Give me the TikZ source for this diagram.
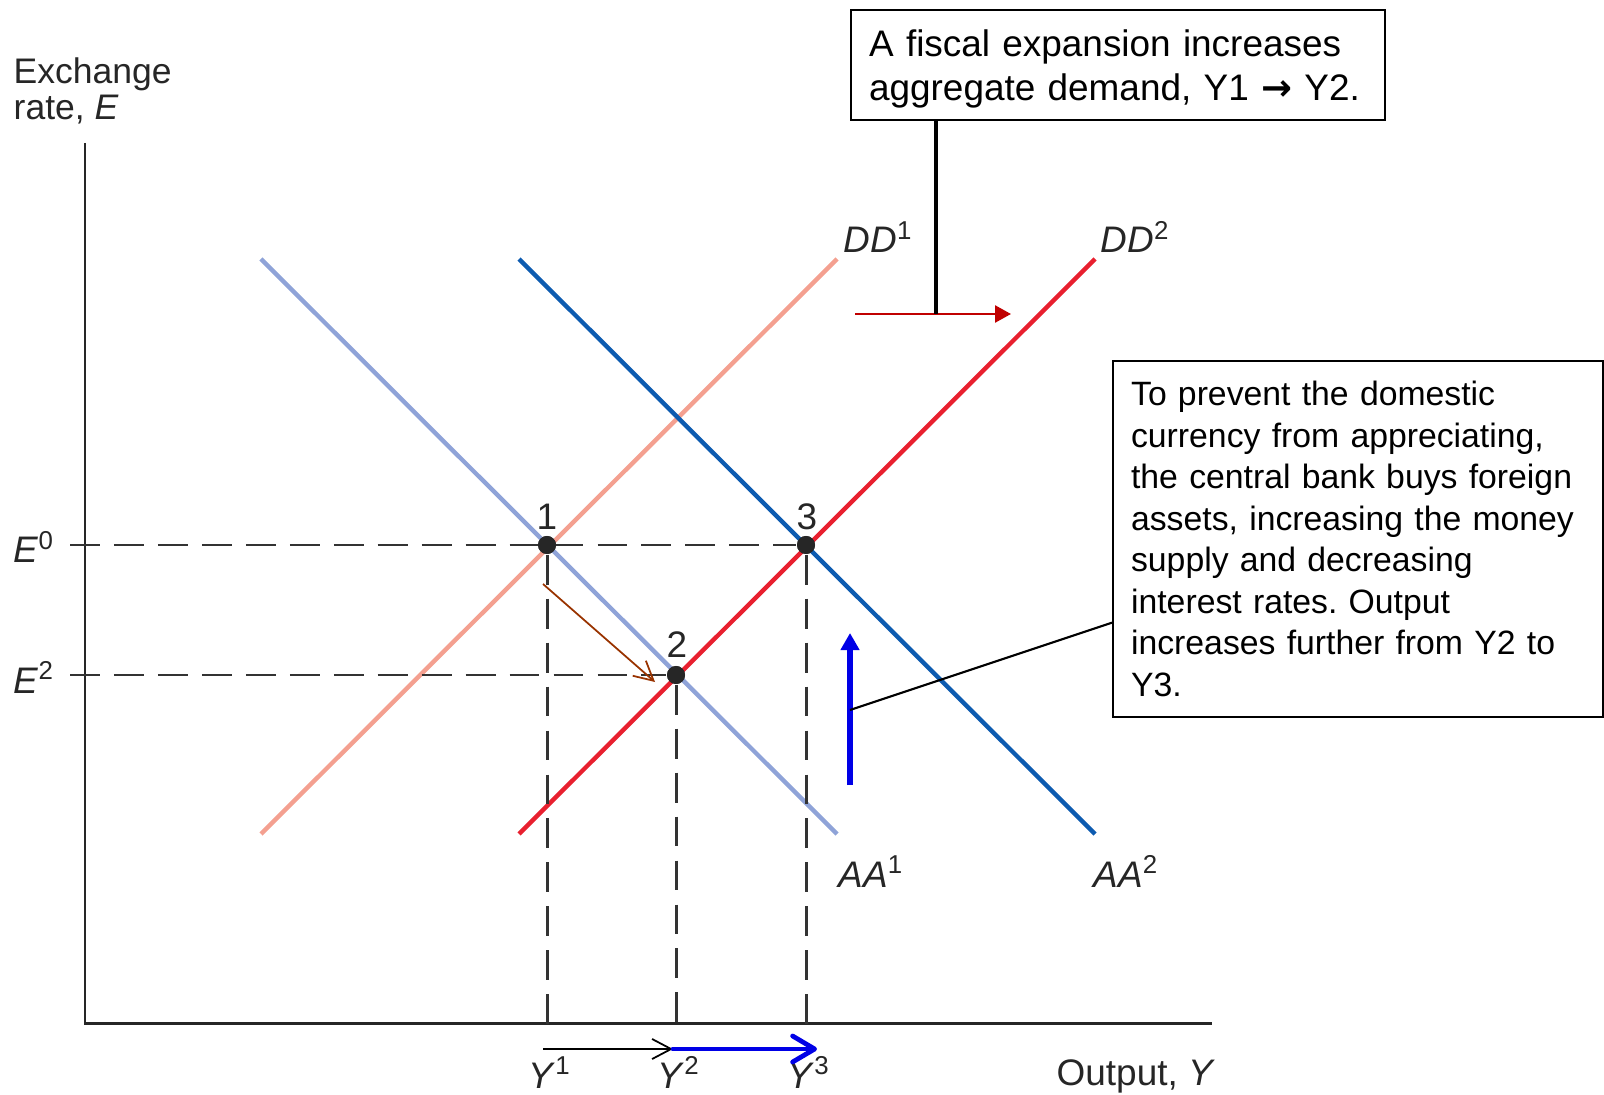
\documentclass[tikz,border=0pt]{standalone}
\usepackage{fontspec}
\setmainfont{Liberation Sans}
\newfontfamily\arrowfont{DejaVu Sans}
\frenchspacing
\usetikzlibrary{positioning, arrows.meta, calc}
\definecolor{aaone}{HTML}{8FA3D8}
\definecolor{ddone}{HTML}{F4A090}
\definecolor{aatwo}{HTML}{0D5BB0}
\definecolor{ddtwo}{HTML}{E8202F}
\definecolor{guide}{HTML}{333333}
\definecolor{shiftred}{HTML}{C00000}
\definecolor{slide}{HTML}{993300}
\definecolor{push}{HTML}{0000E6}
\tikzset{
  axis/.style      = {line width=0.85pt, draw=black!85},
  curve/.style     = {line width=1.25pt},
  guideline/.style = {line width=0.85pt, draw=guide, dash pattern=on 8.5pt off 4pt},
  eqpt/.style      = {circle, fill=black!85, inner sep=0pt, minimum size=0.18cm},
  lbl/.style       = {font=\fontsize{10.5}{12.5}\selectfont, inner sep=0pt, text=black!85},
  callout/.style   = {rectangle, draw=black, line width=0.6pt, align=left,
                      inner xsep=0.18cm, inner ysep=0pt, anchor=north west},
  thinarr/.style   = {-{Straight Barb[length=1.9mm,width=2mm]}, line width=0.5pt},
  thickarr/.style  = {-{Straight Barb[length=2.2mm,width=2.6mm,round]}, line width=1.35pt,
                      draw=push, line cap=round},
  solidarr/.style  = {-{Triangle[length=1.6mm,width=1.7mm]}},
}

\begin{document}
\begin{tikzpicture}[x=0.01cm, y=-0.01cm]
  \useasboundingbox (0,0) rectangle (1604,1095);

  % Axes
  \coordinate (origin) at (85,1023);
  \coordinate (tickleft) at (70,1023);
  \draw[axis] (85,143) -- (origin) -- (1212,1023);
  \node[lbl, anchor=north west, align=left, font=\fontsize{10.1}{10.3}\selectfont]
       (ylab) at (13,57) {Exchange\\rate, \textit{E}};
  \node[lbl, anchor=base west] (xlab) at (1056,1085) {Output, \textit{Y}};

  % Schedules
  \draw[curve, ddone] (261,834) -- (837,259);
  \draw[curve, aaone] (261,259) -- (837,834);
  \draw[curve, aatwo] (519,259) -- (1095,834);
  \draw[curve, ddtwo] (519,834) -- (1095,259);
  \node[lbl, anchor=base west] (dd1) at (843,253) {\textit{DD}\textsuperscript{1}};
  \node[lbl, anchor=base west] (dd2) at (1100,253) {\textit{DD}\textsuperscript{2}};
  \node[lbl, anchor=base west] (aa1) at (838,887) {\textit{AA}\textsuperscript{1}};
  \node[lbl, anchor=base west] (aa2) at (1093,887) {\textit{AA}\textsuperscript{2}};

  % Equilibria
  \node[eqpt] (p1) at (547,545) {};
  \node[eqpt] (p2) at (676,675) {};
  \node[eqpt] (p3) at (806,545) {};
  \draw[guideline] (tickleft |- p3) -- (p3);
  \draw[guideline] (tickleft |- p2) -- (p2);
  \draw[guideline] (p1) -- ++(0,490);
  \draw[guideline] (p2) -- ++(0,360);
  \draw[guideline] (p3) -- ++(0,490);
  \node[eqpt] at (p1) {};
  \node[eqpt] at (p2) {};
  \node[eqpt] at (p3) {};
  \node[lbl, anchor=base] (n1) at ($(p1)+(0,-15)$) {1};
  \node[lbl, anchor=base] (n2) at ($(p2)+(1,-18)$) {2};
  \node[lbl, anchor=base] (n3) at ($(p3)+(1,-15)$) {3};
  \node[lbl, anchor=base west] (e0) at (13,563) {\textit{E}\textsuperscript{0}};
  \node[lbl, anchor=base west] (e2) at (13,693) {\textit{E}\textsuperscript{2}};
  \node[lbl, anchor=base] (y1) at ($(p1 |- origin)+(3,65)$) {\textit{Y}\textsuperscript{1}};
  \node[lbl, anchor=base] (y2) at ($(p2 |- origin)+(3,65)$) {\textit{Y}\textsuperscript{2}};
  \node[lbl, anchor=base] (y3) at ($(p3 |- origin)+(3,65)$) {\textit{Y}\textsuperscript{3}};

  % Movements
  \coordinate (slidefrom) at (543,584);
  \coordinate (slideto) at (655,682);
  \draw[thinarr, slide] (slidefrom) -- (slideto);
  \coordinate (outA) at (543,1049);
  \coordinate (outB) at (673,1049);
  \coordinate (outC) at (817,1049);
  \draw[thinarr] (outA) -- (outB);
  \draw[thickarr] (outB) -- (outC);
  \coordinate (shiftfrom) at (855,314);
  \coordinate (shiftmid) at (936,314);
  \coordinate (shiftto) at (1011,314);
  \draw[solidarr, shiftred, line width=0.7pt] (shiftfrom) -- (shiftto);
  \coordinate (pushfrom) at (850,785);
  \coordinate (pushmid) at (850,710);
  \coordinate (pushto) at (850,633);
  \draw[-{Triangle[length=1.7mm,width=1.8mm]}, push, line width=1.7pt] (pushfrom) -- (pushto);

  % Notes
  \node[callout, text width=4.98cm, minimum height=1.10cm,
        font=\fontsize{10.5}{12.5}\selectfont] (fiscal) at (850,9)
       {\rule{0pt}{10pt}A fiscal expansion increases\\aggregate demand, Y1 {\arrowfont\bfseries →} Y2.};
  \node[callout, text width=4.54cm, minimum height=3.56cm, inner xsep=0.18cm,
        font=\fontsize{9.6}{11.8}\selectfont] (money) at (1112,360)
       {To prevent the domestic\\currency from appreciating,\\the central bank buys foreign\\assets, increasing the money\\supply and decreasing\\interest rates. Output\\increases further from Y2 to\\Y3.};
  \draw[line width=0.9pt] (shiftmid |- fiscal.south) -- (shiftmid);
  \draw[line width=0.6pt] ($(money.north west)!0.733!(money.south west)$) -- (pushmid);

\end{tikzpicture}
\end{document}
